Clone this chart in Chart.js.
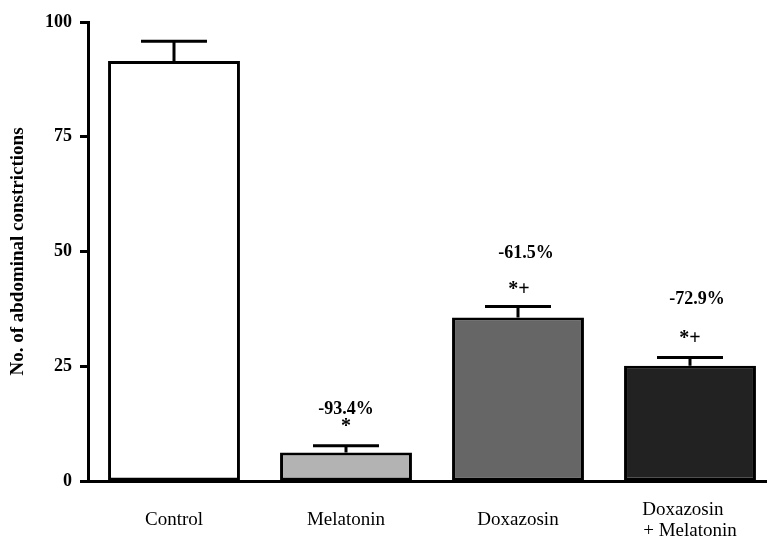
<!DOCTYPE html>
<html>
<head>
<meta charset="utf-8">
<script src="https://cdn.jsdelivr.net/npm/chart.js@4/dist/chart.umd.min.js"></script>
<style>
  html, body { margin: 0; padding: 0; background: #fff; overflow: hidden; }
  canvas { display: block; }
</style>
</head>
<body>
<canvas id="c" width="776" height="538"></canvas>
<script>
// Groups and measured responses (mean ± SEM)
const categories = ['Control', 'Melatonin', 'Doxazosin', ['Doxazosin   ', '+ Melatonin']];
const meanValues = [91.5, 6.2, 35.6, 25.1];
const semValues = [4.3, 1.5, 2.4, 1.8];
const percentLabels = ['', '-93.4%', '-61.5%', '-72.9%'];
const significance = ['', '*', '*+', '*+'];
const yTicks = [0, 25, 50, 75, 100];

const barColors = ['#ffffff', '#b3b3b3', '#666666', '#222222'];
const serif = '"Liberation Serif", "Times New Roman", serif';

// Error bars and annotations drawn above each bar
const errorBarPlugin = {
  id: 'errorBars',
  afterDatasetsDraw(chart, args, opts) {
    const ctx = chart.ctx;
    const meta = chart.getDatasetMeta(0);
    const y = chart.scales.y;
    ctx.save();
    ctx.strokeStyle = '#000';
    ctx.lineWidth = 3;
    meta.data.forEach((bar, i) => {
      const top = y.getPixelForValue(meanValues[i]);
      const cap = y.getPixelForValue(meanValues[i] + semValues[i]);
      const half = bar.width * opts.capFraction / 2;
      ctx.beginPath();
      ctx.moveTo(bar.x, top);
      ctx.lineTo(bar.x, cap);
      ctx.moveTo(bar.x - half, cap);
      ctx.lineTo(bar.x + half, cap);
      ctx.stroke();

      ctx.fillStyle = '#000';
      ctx.textAlign = 'center';
      ctx.textBaseline = 'middle';
      ctx.font = 'bold 18px ' + serif;
      if (percentLabels[i]) {
        const o = opts.percentOffset[i];
        ctx.fillText(percentLabels[i], bar.x + o[0], cap - o[1]);
      }
      if (significance[i]) {
        const o = opts.sigOffset[i];
        ctx.font = 'bold 20px ' + serif;
        ctx.fillText(significance[i], bar.x + o[0], cap - o[1]);
      }
    });
    ctx.restore();
  }
};

new Chart(document.getElementById('c'), {
  type: 'bar',
  data: {
    labels: categories,
    datasets: [{
      data: meanValues,
      backgroundColor: barColors,
      borderColor: '#000',
      borderWidth: 3,
      borderSkipped: false,
      categoryPercentage: 1,
      barPercentage: 0.767
    }]
  },
  options: {
    responsive: false,
    animation: false,
    events: [],
    layout: { padding: { top: 22, right: 0, bottom: 0, left: 0 } },
    plugins: {
      legend: { display: false },
      tooltip: { enabled: false },
      errorBars: {
        capFraction: 0.5,
        percentOffset: [[0, 0], [0, 36], [8, 53], [7, 58]],
        sigOffset: [[0, 0], [0, 19], [1, 17], [0, 19]]
      }
    },
    scales: {
      x: {
        grid: { display: false },
        border: { display: true, color: '#000', width: 3 },
        ticks: {
          color: '#000',
          padding: 21,
          crossAlign: 'center',
          maxRotation: 0,
          autoSkip: false,
          font: { family: serif, size: 19, lineHeight: 1.1 }
        },
        afterFit(scale) { scale.height = 57; }
      },
      y: {
        min: 0,
        max: 100,
        afterBuildTicks(scale) { scale.ticks = yTicks.map(v => ({ value: v })); },
        grid: {
          drawOnChartArea: false,
          drawTicks: true,
          tickLength: 8,
          tickWidth: 3,
          tickColor: '#000'
        },
        border: { display: true, color: '#000', width: 3 },
        ticks: {
          color: '#000',
          padding: 8,
          font: { family: serif, size: 18, weight: 'bold' }
        },
        title: {
          display: true,
          text: 'No. of abdominal constrictions',
          color: '#000',
          padding: { top: 7, bottom: 0 },
          font: { family: serif, size: 19, weight: 'bold' }
        },
        afterFit(scale) { scale.width = 88; }
      }
    }
  },
  plugins: [errorBarPlugin]
});
</script>
</body>
</html>
